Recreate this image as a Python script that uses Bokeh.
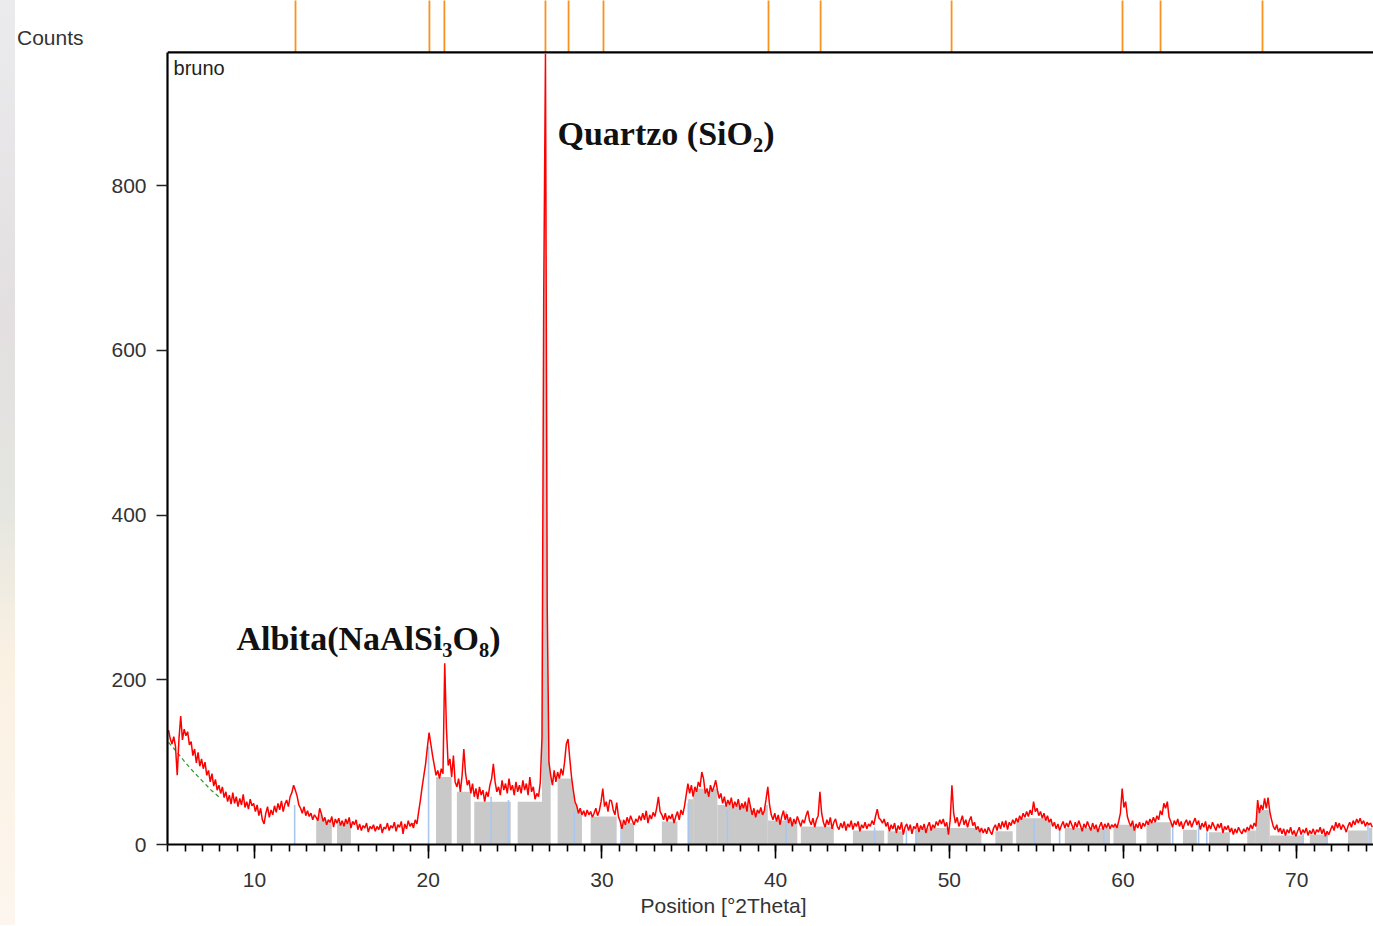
import numpy as np
from bokeh.plotting import figure
from bokeh.models import Span, Label, SingleIntervalTicker, FixedTicker, Div, Title
from bokeh.layouts import row
from bokeh.embed import file_html
from bokeh.resources import INLINE

# ---------------- data ----------------
scan_start = 5.05      # first 2theta of the scan
scan_step = 0.1        # step of the scan
counts = [
    139, 128, 122, 131, 119, 84, 128, 156, 127, 140,   # 5
    132, 137, 121, 125, 108, 116, 99, 112, 95, 104,    # 6
    92, 100, 84, 90, 76, 86, 71, 79, 66, 72,           # 7
    62, 70, 57, 64, 52, 60, 49, 63, 50, 58,            # 8
    46, 56, 48, 61, 45, 52, 43, 55, 47, 50,            # 9
    40, 48, 35, 44, 30, 25, 38, 46, 33, 42,            # 10
    36, 47, 39, 50, 42, 53, 40, 49, 54, 46,            # 11
    58, 63, 72, 66, 59, 48, 44, 38, 46, 35,            # 12
    41, 34, 38, 30, 36, 33, 29, 44, 37, 28,            # 13
    33, 24, 30, 27, 34, 21, 31, 26, 32, 23,            # 14
    29, 22, 31, 25, 33, 20, 28, 24, 30, 18,            # 15
    25, 17, 23, 20, 26, 15, 22, 19, 24, 16,            # 16
    22, 18, 25, 14, 21, 19, 26, 17, 23, 20,            # 17
    27, 16, 24, 21, 28, 13, 25, 19, 29, 22,            # 18
    26, 20, 30, 25, 40, 54, 70, 84, 98, 118,           # 19
    136, 122, 108, 96, 84, 90, 80, 92, 86, 220,        # 20
    140, 96, 104, 82, 108, 76, 70, 80, 64, 84,         # 21
    116, 86, 72, 78, 62, 74, 58, 68, 55, 70,           # 22
    60, 66, 52, 64, 58, 72, 80, 98, 76, 64,            # 23
    70, 60, 78, 66, 74, 62, 80, 66, 72, 60,            # 24
    76, 64, 72, 62, 78, 66, 74, 60, 82, 64,            # 25
    70, 55, 62, 58, 75, 130, 670, 960, 290, 100,       # 26
    84, 72, 90, 76, 88, 80, 92, 84, 100, 122,          # 27
    128, 104, 82, 66, 52, 47, 38, 44, 36, 41,          # 28
    34, 42, 36, 40, 33, 38, 44, 35, 41, 52,            # 29
    68, 46, 52, 40, 54, 53, 42, 36, 51, 34,            # 30
    28, 19, 30, 24, 33, 26, 35, 29, 24, 31,            # 31
    27, 35, 29, 38, 30, 41, 26, 36, 31, 39,            # 32
    34, 44, 58, 40, 36, 30, 38, 28, 35, 31,            # 33
    37, 26, 34, 40, 30, 42, 36, 46, 60, 74,            # 34
    62, 72, 58, 70, 64, 76, 70, 88, 80, 62,            # 35
    68, 58, 72, 64, 70, 78, 66, 56, 62, 50,            # 36
    58, 46, 54, 48, 57, 44, 52, 46, 55, 42,            # 37
    50, 44, 52, 40, 57, 46, 36, 44, 33, 42,            # 38
    38, 45, 36, 41, 55, 70, 48, 36, 30, 38,            # 39
    28, 36, 24, 34, 41, 30, 37, 26, 33, 22,            # 40
    31, 25, 34, 28, 22, 30, 26, 35, 41, 29,            # 41
    24, 32, 21, 30, 35, 64, 38, 27, 21, 30,            # 42
    24, 33, 19, 27, 31, 22, 18, 26, 20, 28,            # 43
    17, 25, 21, 29, 18, 26, 22, 28, 16, 24,            # 44
    20, 27, 19, 25, 22, 29, 24, 34, 43, 32,            # 45
    30, 26, 31, 22, 27, 16, 24, 19, 26, 14,            # 46
    23, 18, 27, 12, 21, 25, 17, 24, 13, 22,            # 47
    19, 26, 15, 23, 18, 25, 14, 22, 27, 17,            # 48
    24, 20, 28, 23, 30, 25, 31, 22, 27, 12,            # 49
    30, 72, 38, 26, 33, 22, 28, 35, 24, 30,            # 50
    21, 29, 34, 23, 27, 18, 22, 15, 20, 14,            # 51
    19, 13, 21, 16, 12, 20, 24, 17, 26, 19,            # 52
    28, 21, 29, 18, 27, 23, 30, 25, 32, 27,            # 53
    35, 30, 38, 33, 40, 34, 42, 36, 52, 40,            # 54
    44, 35, 40, 32, 38, 29, 35, 27, 31, 22,            # 55
    27, 19, 25, 17, 23, 28, 20, 26, 21, 29,            # 56
    24, 18, 27, 21, 29, 23, 16, 25, 20, 28,            # 57
    22, 17, 26, 19, 24, 15, 22, 27, 18, 25,            # 58
    20, 26, 19, 24, 21, 25, 20, 28, 38, 68,            # 59
    45, 52, 34, 27, 22, 29, 17, 25, 20, 27,            # 60
    19, 26, 22, 29, 24, 31, 26, 33, 27, 35,            # 61
    30, 41, 36, 50, 44, 52, 33, 28, 21, 29,            # 62
    24, 31, 22, 28, 19, 26, 30, 23, 29, 21,            # 63
    27, 32, 24, 29, 18, 26, 21, 28, 16, 24,            # 64
    19, 27, 22, 17, 25, 20, 26, 14, 22, 18,            # 65
    23, 15, 20, 12, 19, 14, 21, 16, 13, 19,            # 66
    15, 21, 17, 24, 19, 26, 22, 54, 38, 48,            # 67
    42, 56, 44, 57, 40, 30, 22, 18, 24, 15,            # 68
    20, 13, 19, 11, 18, 14, 21, 12, 17, 10,            # 69
    16, 21, 12, 18, 14, 20, 11, 17, 13, 19,            # 70
    12, 18, 15, 21, 13, 19, 10, 16, 12, 18,            # 71
    23, 17, 27, 20, 26, 18, 24, 21, 15, 22,            # 72
    27, 21, 29, 24, 31, 26, 32, 25, 29, 22,            # 73
    27, 24, 26, 21,                                    # 74
]

# grey (profile) areas: start, end, top level
gray_start = [13.55, 14.75, 20.45, 21.65, 22.65, 25.15, 26.55, 27.45, 29.35, 31.15,
              33.45, 34.95, 35.25, 36.65, 39.55, 41.45, 44.45, 46.45, 48.05, 52.65,
              53.85, 56.65, 59.45, 61.35, 63.45, 64.95, 67.15, 67.65, 68.45, 70.75,
              72.95, 74.15]
gray_end = [14.45, 15.55, 21.35, 22.45, 24.75, 26.55, 27.05, 28.85, 30.85, 31.85,
            34.35, 35.25, 36.65, 39.55, 41.25, 43.35, 46.25, 47.35, 51.85, 53.65,
            55.85, 59.25, 60.75, 62.75, 64.25, 66.15, 67.65, 68.45, 70.35, 71.75,
            74.05, 74.35]
gray_level = [36, 28, 82, 64, 52, 52, 1000, 80, 34, 26,
              28, 55, 68, 48, 29, 22, 17, 16, 20, 16,
              32, 20, 24, 27, 18, 15, 17, 42, 11, 12,
              17, 20]

# blue reference sticks
stick_pos = [12.31, 20.02, 23.62, 24.62, 28.41, 31.10, 34.97, 37.22, 40.60, 45.70, 47.53,
             48.08, 54.88, 56.35, 58.90, 62.86, 64.35, 64.82, 70.37, 71.75, 74.10]
stick_height = [48, 119, 58, 54, 40, 30, 50, 42, 40, 21, 17,
                17, 31, 17, 19, 21, 23, 15, 13, 15, 25]

# orange peak markers above the plot
marker_pos = [12.36, 20.07, 20.93, 26.75, 28.08, 30.09, 39.59, 42.59, 50.13, 59.97, 62.16, 68.03]

# green dashed background
bg_x = [5.05, 5.5, 6.0, 6.5, 7.0, 7.5, 8.0, float("nan"), 19.0, 19.35]
bg_y = [124, 113, 100, 88, 77, 66, 57, float("nan"), 24, 27]

y_ticks = [0, 200, 400, 600, 800]
top_line = 962

# ---------------- figure ----------------
x = np.round(scan_start + scan_step * np.arange(len(counts)), 3)
c = np.array(counts, dtype=float)

p = figure(width=1273, height=925, x_range=(4.99, 74.42), y_range=(0, 1024.9),
           output_backend="svg", toolbar_location=None, title=None,
           min_border_left=67, min_border_right=0, min_border_top=0, min_border_bottom=81)
p.outline_line_color = None
p.xgrid.visible = False
p.ygrid.visible = False
p.background_fill_color = "white"
p.border_fill_color = "white"

# grey areas
for s, e, lv in zip(gray_start, gray_end, gray_level):
    m = (x >= s - 1e-6) & (x <= e + 1e-6)
    p.varea(x=x[m], y1=np.zeros(m.sum()), y2=np.minimum(c[m], lv),
            fill_color="#c9c9c9", fill_alpha=1.0)

# blue sticks
p.segment(x0=stick_pos, y0=[0] * len(stick_pos), x1=stick_pos, y1=stick_height,
          line_color="#a9c7ee", line_width=1.6)

# orange markers
p.segment(x0=marker_pos, y0=[top_line] * len(marker_pos), x1=marker_pos,
          y1=[1100] * len(marker_pos), line_color="#f7931e", line_width=1.8)

# green background
p.line(bg_x, bg_y, line_color="#3c9a3c", line_width=1.3, line_dash="4 3")

# measured pattern
p.line(x, c, line_color="#ff0000", line_width=1.5)

# top black line of the plot box
p.add_layout(Span(location=top_line, dimension="width", line_color="black", line_width=2.2))

# axes
xa = p.xaxis[0]
xa.ticker = SingleIntervalTicker(interval=10, num_minor_ticks=10)
xa.axis_line_width = 2.2
xa.axis_line_color = "black"
xa.major_tick_in = 0
xa.major_tick_out = 14
xa.minor_tick_in = 0
xa.minor_tick_out = 7
xa.major_tick_line_width = 1.6
xa.minor_tick_line_width = 1.6
xa.major_tick_line_color = "black"
xa.minor_tick_line_color = "black"
xa.major_label_text_font = "Liberation Sans"
xa.major_label_text_font_size = "21px"
xa.major_label_text_color = "#333333"
xa.major_label_standoff = 14

ya = p.yaxis[0]
ya.ticker = FixedTicker(ticks=y_ticks)
ya.bounds = (0, top_line)
ya.axis_line_width = 2.2
ya.axis_line_color = "black"
ya.major_tick_in = 0
ya.major_tick_out = 11
ya.minor_tick_line_color = None
ya.major_tick_line_width = 1.6
ya.major_tick_line_color = "#222222"
ya.major_label_text_font = "Liberation Sans"
ya.major_label_text_font_size = "21px"
ya.major_label_text_color = "#333333"
ya.major_label_standoff = 10

# x axis title (off-centre, as in the reference)
p.add_layout(Title(text="Position [\u00b02Theta]", align="left", offset=473, standoff=4,
                   text_font="Liberation Sans", text_font_style="normal",
                   text_font_size="21px", text_color="#333333"), "below")

# texts inside the plot
p.add_layout(Label(x=5.34, y=943, text="bruno", text_align="left",
                   text_baseline="middle", text_font="Liberation Sans",
                   text_font_size="20px", text_color="#222222"))
p.add_layout(Label(x=27.44, y=863, text="Quartzo (SiO\u2082)", text_align="left",
                   text_baseline="middle", text_font="Liberation Serif",
                   text_font_style="bold", text_font_size="34px", text_color="#111111"))
p.add_layout(Label(x=8.96, y=250, text="Albita(NaAlSi\u2083O\u2088)", text_align="left",
                   text_baseline="middle", text_font="Liberation Serif",
                   text_font_style="bold", text_font_size="34px", text_color="#111111"))

# left margin: window-edge strip and the "Counts" label
left = Div(text=("<div style=\"padding:27px 0 0 17px;font-family:'Liberation Sans',Arial,sans-serif;"
                 "font-size:21px;line-height:1;color:#333333;white-space:nowrap\">Counts</div>"),
           width=100, height=925, margin=0,
           styles={"background-image": "linear-gradient(to bottom, #ebebed 0%, #e3dfe0 35%, "
                                       "#e5e6e0 55%, #fbf1e3 72%, #fdf6ee 100%)",
                   "background-size": "15px 100%",
                   "background-repeat": "no-repeat",
                   "background-color": "white"})

layout = row(left, p)
open("out.html", "w").write(file_html(layout, INLINE))
